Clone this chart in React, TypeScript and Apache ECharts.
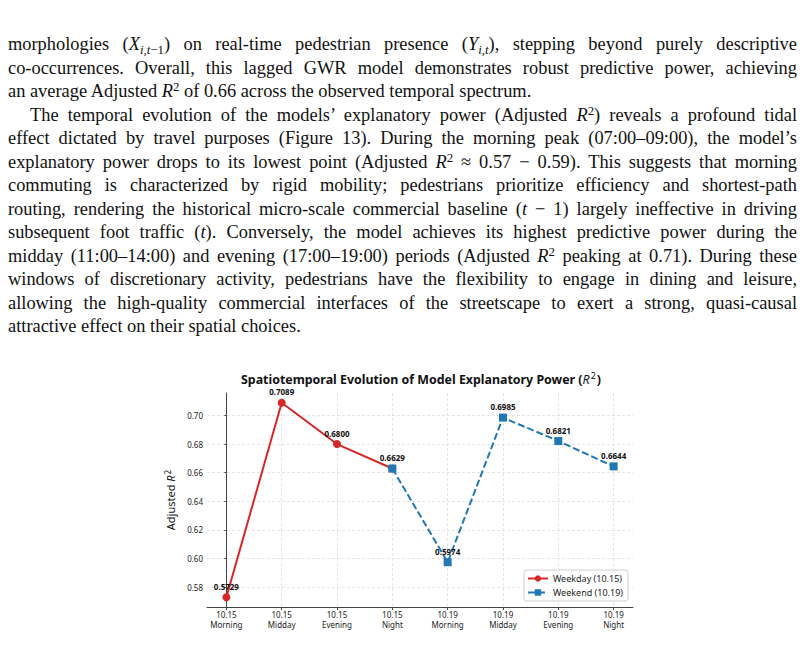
import React, { useEffect, useRef } from 'react';
import * as echarts from 'echarts';

const categories = [
  '10.15\nMorning',
  '10.15\nMidday',
  '10.15\nEvening',
  '10.15\nNight',
  '10.19\nMorning',
  '10.19\nMidday',
  '10.19\nEvening',
  '10.19\nNight',
];
const weekdayValues = [0.5729, 0.7089, 0.68, 0.6629];
// weekend line starts from the weekday night point
const weekendStart = 3;
const weekendValues = [0.6629, 0.5974, 0.6985, 0.6821, 0.6644];
const yTicks = [0.58, 0.6, 0.62, 0.64, 0.66, 0.68, 0.7];

const FONT = '"Noto Sans", "DejaVu Sans", sans-serif';

const Chart: React.FC = () => {
  const chartRef = useRef<HTMLDivElement | null>(null);

  useEffect(() => {
    if (!chartRef.current) return;
    const chart = echarts.init(chartRef.current, undefined, { renderer: 'svg' });
    const xTicks = categories.map((_, i) => i);

    const option: any = {
      animation: false,
      textStyle: { fontFamily: FONT },
      graphic: [
        {
          type: 'text',
          x: 421,
          y: 24,
          style: {
            text: '{b|Spatiotemporal Evolution of Model Explanatory Power (}{i|R}{s|2}{b|)}',
            textAlign: 'center',
            textVerticalAlign: 'middle',
            rich: {
              b: { fontFamily: FONT, fontWeight: 'bold', fontSize: 12.4, fill: '#111' },
              i: { fontFamily: FONT, fontStyle: 'italic', fontSize: 12.4, fill: '#111' },
              s: { fontFamily: FONT, fontSize: 9, fill: '#111', padding: [0, 1, 7, 1] },
            },
          },
        },
      ],
      grid: { left: 207, right: 171, top: 38, bottom: 53 },
      legend: {
        orient: 'vertical',
        right: 176,
        top: 215,
        itemWidth: 20,
        itemHeight: 8,
        itemGap: 5,
        padding: [4, 5, 4, 3],
        backgroundColor: 'rgba(255,255,255,0.9)',
        borderColor: '#d0d0d0',
        borderWidth: 1,
        borderRadius: 3,
        textStyle: { fontSize: 9, color: '#222', fontFamily: FONT },
        data: ['Weekday (10.15)', 'Weekend (10.19)'],
      },
      xAxis: {
        type: 'value',
        min: -0.35,
        max: 7.35,
        axisLine: { show: true, lineStyle: { color: '#444', width: 1 } },
        axisTick: { show: true, length: 3, customValues: xTicks, lineStyle: { color: '#444' } },
        axisLabel: {
          customValues: xTicks,
          fontSize: 8,
          lineHeight: 9.5,
          color: '#222',
          margin: 3,
          formatter: (v: number) => categories[Math.round(v)] ?? '',
        },
        splitLine: { show: true, lineStyle: { color: '#dadada', type: [3, 2], width: 0.7 } },
      },
      yAxis: {
        type: 'value',
        min: 0.5661,
        max: 0.7157,
        name: 'Adjusted {i|R}{s|2}',
        nameLocation: 'middle',
        nameRotate: 90,
        nameGap: 30,
        nameTextStyle: {
          fontSize: 11,
          color: '#111',
          fontFamily: FONT,
          rich: {
            i: { fontStyle: 'italic', fontSize: 11, color: '#111', fontFamily: FONT },
            s: { fontSize: 8, color: '#111', fontFamily: FONT, padding: [0, 0, 6, 1] },
          },
        },
        axisLine: { show: true, lineStyle: { color: '#444', width: 1 } },
        axisTick: { show: true, length: 2, customValues: yTicks, lineStyle: { color: '#444' } },
        axisLabel: {
          customValues: yTicks,
          fontSize: 8,
          color: '#222',
          margin: 4,
          formatter: (v: number) => v.toFixed(2),
        },
        splitLine: { show: true, lineStyle: { color: '#dadada', type: [3, 2], width: 0.7 } },
      },
      series: [
        {
          name: 'Weekday (10.15)',
          type: 'line',
          data: weekdayValues.map((v, i) => [i, v]),
          symbol: 'circle',
          symbolSize: 8,
          itemStyle: { color: '#d62728' },
          lineStyle: { color: '#d62728', width: 2 },
          label: {
            show: true,
            position: 'top',
            distance: 3,
            fontSize: 8,
            fontWeight: 'bold',
            color: '#111',
            formatter: (p: any) =>
              p.dataIndex === weekdayValues.length - 1 ? '' : p.value[1].toFixed(4),
          },
          z: 2,
        },
        {
          name: 'Weekend (10.19)',
          type: 'line',
          data: weekendValues.map((v, i) => [i + weekendStart, v]),
          symbol: 'rect',
          symbolSize: 8,
          itemStyle: { color: '#1f77b4' },
          lineStyle: { color: '#1f77b4', width: 2, type: [7, 3] },
          label: {
            show: true,
            position: 'top',
            distance: 3,
            fontSize: 8,
            fontWeight: 'bold',
            color: '#111',
            formatter: (p: any) => p.value[1].toFixed(4),
          },
          z: 3,
        },
      ],
    };

    chart.setOption(option);
    return () => {
      chart.dispose();
    };
  }, []);

  return (
    <div
      ref={chartRef}
      style={{ position: 'absolute', left: 0, top: 355, width: 804, height: 305 }}
    />
  );
};

const sub: React.CSSProperties = { fontSize: '0.7em', verticalAlign: '-0.3em', lineHeight: 0 };
const sup: React.CSSProperties = { fontSize: '0.7em', verticalAlign: '0.5em', lineHeight: 0 };

const Line: React.FC<{ last?: boolean; indent?: boolean; children: React.ReactNode }> = ({
  last,
  indent,
  children,
}) => (
  <div
    style={{
      height: 23.5,
      lineHeight: '23.5px',
      textAlign: 'justify',
      textAlignLast: last ? 'left' : 'justify',
      paddingLeft: indent ? 22 : 0,
    }}
  >
    {children}
  </div>
);

const R2 = () => (
  <>
    <i>R</i>
    <sup style={sup}>2</sup>
  </>
);

const App: React.FC = () => (
  <div
    style={{
      position: 'absolute',
      left: 0,
      top: 0,
      width: 804,
      height: 660,
      background: '#fff',
      overflow: 'hidden',
    }}
  >
    <div
      style={{
        position: 'absolute',
        left: 8,
        top: 33,
        width: 789,
        fontFamily: '"Liberation Serif", "DejaVu Serif", serif',
        fontSize: 18.4,
        color: '#111',
      }}
    >
      <Line>
        morphologies (<i>X</i>
        <sub style={sub}>
          <i>i,t</i>−1
        </sub>
        ) on real-time pedestrian presence (<i>Y</i>
        <sub style={sub}>
          <i>i,t</i>
        </sub>
        ), stepping beyond purely descriptive
      </Line>
      <Line>co-occurrences. Overall, this lagged GWR model demonstrates robust predictive power, achieving</Line>
      <Line last>
        an average Adjusted <R2 /> of 0.66 across the observed temporal spectrum.
      </Line>
      <Line indent>
        The temporal evolution of the models’ explanatory power (Adjusted <R2 />) reveals a profound tidal
      </Line>
      <Line>
        effect dictated by travel purposes (Figure 13). During the morning peak (07:00–09:00), the model’s
      </Line>
      <Line>
        explanatory power drops to its lowest point (Adjusted <R2 /> ≈ 0.57 − 0.59). This suggests that morning
      </Line>
      <Line>
        commuting is characterized by rigid mobility; pedestrians prioritize efficiency and shortest-path
      </Line>
      <Line>
        routing, rendering the historical micro-scale commercial baseline (<i>t</i> − 1) largely ineffective in driving
      </Line>
      <Line>
        subsequent foot traffic (<i>t</i>). Conversely, the model achieves its highest predictive power during the
      </Line>
      <Line>
        midday (11:00–14:00) and evening (17:00–19:00) periods (Adjusted <R2 /> peaking at 0.71). During these
      </Line>
      <Line>
        windows of discretionary activity, pedestrians have the flexibility to engage in dining and leisure,
      </Line>
      <Line>
        allowing the high-quality commercial interfaces of the streetscape to exert a strong, quasi-causal
      </Line>
      <Line last>attractive effect on their spatial choices.</Line>
    </div>
    <Chart />
  </div>
);

export default App;
